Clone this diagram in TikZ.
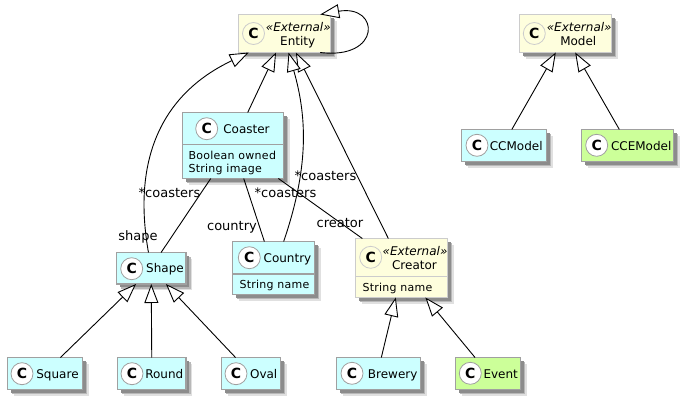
\documentclass[tikz,border=0pt]{standalone}
\usepackage{fontspec}
\setmainfont{DejaVu Sans}
\newfontfamily\attrfont[LetterSpace=2.5]{DejaVu Sans}
\usetikzlibrary{arrows.meta,shadows}

\definecolor{classfill}{HTML}{CCFFFF}
\definecolor{extfill}{HTML}{FEFEDD}
\definecolor{evtfill}{HTML}{CCFF99}
\definecolor{classline}{HTML}{A0A0A0}
\definecolor{extline}{HTML}{CCCCCC}

\tikzset{
  softshadow/.style={
    drop shadow={shadow xshift=6pt,shadow yshift=-6pt,fill=black!12,opacity=1},
    drop shadow={shadow xshift=4.7pt,shadow yshift=-4.7pt,fill=black!28,opacity=1},
    drop shadow={shadow xshift=3.2pt,shadow yshift=-3.2pt,fill=black!45,opacity=1}},
  classbox/.style={rectangle,draw=classline,line width=1.7pt,fill=classfill,outer sep=0pt,inner sep=0pt,softshadow},
  extbox/.style={classbox,draw=extline,fill=extfill},
  evtbox/.style={classbox,fill=evtfill},
  classmark/.style={circle,draw=classline,fill=white,line width=0.8pt,minimum size=22pt,inner sep=0pt,
    font=\fontsize{14}{14}\selectfont\bfseries},
  extmark/.style={classmark,draw=extline,fill=extfill},
  nametext/.style={anchor=base,inner sep=0pt,font=\fontsize{12}{14}\selectfont},
  sterotext/.style={anchor=base,inner sep=0pt,font=\fontsize{12}{14}\selectfont\itshape},
  attrtext/.style={anchor=base west,inner sep=0pt,font=\fontsize{11}{13}\selectfont\attrfont},
  roletext/.style={anchor=base,inner sep=0pt,font=\fontsize{13}{15}\selectfont},
  extends/.style={-{Triangle[fill=white,length=19pt,width=14pt]},line width=0.9pt,line join=miter},
  assoc/.style={line width=0.9pt},
  divide/.style={line width=1.3pt}
}

\begin{document}
\begin{tikzpicture}[x=1pt,y=-1pt]
\useasboundingbox (0,0) rectangle (686,402);

\node[extbox,minimum width=92pt,minimum height=38pt] (Entity) at (284.5,33.5) {};
\node[extbox,minimum width=92pt,minimum height=38pt] (Model) at (565.5,33.5) {};
\node[classbox,minimum width=101pt,minimum height=66pt] (Coaster) at (233,145.5) {};
\node[classbox,minimum width=85pt,minimum height=32pt] (CCModel) at (504,145.5) {};
\node[evtbox,minimum width=92pt,minimum height=32pt] (CCEModel) at (627.5,145.5) {};
\node[classbox,minimum width=69.5pt,minimum height=31.5pt] (Shape) at (151.25,268.25) {};
\node[classbox,minimum width=82pt,minimum height=53pt] (Country) at (273.5,268) {};
\node[extbox,minimum width=92pt,minimum height=59pt] (Creator) at (401.5,268) {};
\node[classbox,minimum width=75pt,minimum height=32pt] (Square) at (45,373.5) {};
\node[classbox,minimum width=68.5pt,minimum height=32pt] (Round) at (151.75,373.5) {};
\node[classbox,minimum width=59pt,minimum height=32pt] (Oval) at (251,373.5) {};
\node[classbox,minimum width=84pt,minimum height=32pt] (Brewery) at (378.5,373.5) {};
\node[evtbox,minimum width=65pt,minimum height=32pt] (Event) at (488,373.5) {};

\node[extmark] (EntityC) at (253.5,33.5) {C};
\node[extmark] (ModelC) at (534.3,33.5) {C};
\node[classmark] (CoasterC) at (206.7,128.7) {C};
\node[classmark] (CCModelC) at (477,145.3) {C};
\node[classmark] (CCEModelC) at (596.7,145.3) {C};
\node[classmark] (ShapeC) at (131.7,268.7) {C};
\node[classmark] (CountryC) at (249.3,257.7) {C};
\node[extmark] (CreatorC) at (370.7,257.3) {C};
\node[classmark] (SquareC) at (22,373.7) {C};
\node[classmark] (RoundC) at (132,373.7) {C};
\node[classmark] (OvalC) at (236,373.7) {C};
\node[classmark] (BreweryC) at (352,373.3) {C};
\node[classmark] (EventC) at (470.3,373.3) {C};

\node[sterotext] (EntityS) at (298.3,31) {«External»};
\node[nametext] (EntityT) at (297.7,45.5) {Entity};
\node[sterotext] (ModelS) at (579.2,31) {«External»};
\node[nametext] (ModelT) at (578.3,45.5) {Model};
\node[nametext] (CoasterT) at (246.5,133.2) {Coaster};
\node[nametext] (CCModelT) at (516.2,150) {CCModel};
\node[nametext] (CCEModelT) at (641.2,150) {CCEModel};
\node[nametext] (ShapeT) at (165,272.5) {Shape};
\node[nametext] (CountryT) at (287.5,262.2) {Country};
\node[sterotext] (CreatorS) at (415,255) {«External»};
\node[nametext] (CreatorT) at (414.5,269) {Creator};
\node[nametext] (SquareT) at (57.5,378) {Square};
\node[nametext] (RoundT) at (164.3,378) {Round};
\node[nametext] (OvalT) at (263.7,378) {Oval};
\node[nametext] (BreweryT) at (392.7,378) {Brewery};
\node[nametext] (EventT) at (500.7,378) {Event};

\node[attrtext] (CoasterA) at (188.3,159.3) {Boolean owned};
\node[attrtext] (CoasterB) at (188.3,172) {String image};
\node[attrtext] (CountryA) at (239.3,288.3) {String name};
\node[attrtext] (CreatorA) at (362.3,291.3) {String name};

\draw[divide,draw=classline] (Coaster.north west) ++(0,32) -- ++(101,0);
\draw[divide,draw=classline] (Country.north west) ++(0,32.5) -- ++(82,0);
\draw[divide,draw=extline] (Creator.north west) ++(0,38) -- ++(92,0);

\path[extends] (Coaster.66.6) edge (Entity.-114.8);
\path[extends] (Creator.114.1) edge (Entity.-59.5);
\draw[extends] (Shape.100.6) .. controls (125,120) and (200,76) .. (Entity.-152);
\draw[extends] (Country.69.7) .. controls (308,170) and (308,120) .. (Entity.-78.7);
\draw[extends] (Entity.-28.6) .. controls (382,60) and (380,4) .. (Entity.28.6);
\path[extends] (Square.46.8) edge (Shape.-134.6);
\path[extends] (Round.north) edge (Shape.south);
\path[extends] (Oval.134.5) edge (Shape.-47.5);
\path[extends] (Brewery.80) edge (Creator.-101.9);
\path[extends] (Event.129.7) edge (Creator.-51.1);
\path[extends] (CCModel.64.3) edge (Model.-117.3);
\path[extends] (CCEModel.117.1) edge (Model.-63.4);

\path[assoc] (Coaster.-124.5) edge (Shape.58.2);
\path[assoc] (Coaster.-72.7) edge (Country.109.1);
\path[assoc] (Coaster.-36.4) edge (Creator.143.5);

\node[roletext] (ShapeR) at (169.5,197) {*coasters};
\node[roletext] (CountryR) at (285.5,197) {*coasters};
\node[roletext] (CreatorR) at (325.5,180) {*coasters};
\node[roletext] (ShapeL) at (138,240.7) {shape};
\node[roletext] (CountryL) at (232,230.7) {country};
\node[roletext] (CreatorL) at (340,227.7) {creator};
\end{tikzpicture}
\end{document}
